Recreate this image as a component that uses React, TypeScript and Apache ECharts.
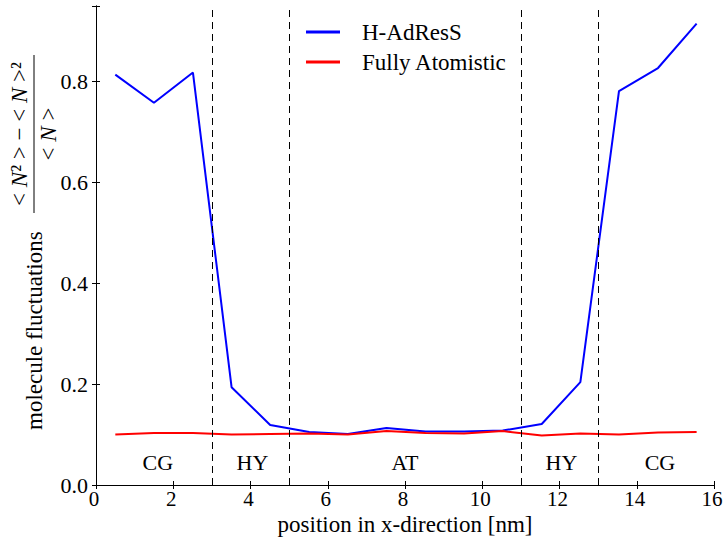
import React, { useEffect, useRef } from "react";
import * as echarts from "echarts";

const xPos = [0.5, 1.5, 2.51, 3.51, 4.51, 5.52, 6.52, 7.52, 8.53, 9.53, 10.53, 11.54, 12.54, 13.54, 14.55, 15.55];
const hAdress = [0.814, 0.758, 0.818, 0.194, 0.119, 0.105, 0.101, 0.113, 0.106, 0.106, 0.108, 0.121, 0.204, 0.781, 0.827, 0.915];
const fullyAtomistic = [0.1, 0.103, 0.103, 0.1, 0.101, 0.102, 0.1, 0.107, 0.103, 0.102, 0.107, 0.098, 0.102, 0.1, 0.104, 0.105];
const boundaries = [3, 5, 11, 13];
const regionNames = ["CG", "HY", "AT", "HY", "CG"];
const regionX = [1.6, 4.05, 8.0, 12.05, 14.6];
const regionY = 0.045;
const seriesNames = ["H-AdResS", "Fully Atomistic"];

const FONT = "'Liberation Serif', 'DejaVu Serif', serif";

export default function App() {
  const ref = useRef<HTMLDivElement>(null);
  useEffect(() => {
    if (!ref.current) return;
    document.body.style.margin = "0";
    const chart = echarts.init(ref.current, undefined, { renderer: "svg" });
    const axisCommon = {
      type: "value" as const,
      axisLine: { show: true, lineStyle: { color: "#000", width: 1 } },
      axisTick: { show: true, inside: true, length: 4, lineStyle: { color: "#000" } },
      splitLine: { show: false },
    };
    const isMajor = (v: number) => Math.abs(v / 0.2 - Math.round(v / 0.2)) < 1e-6;
    chart.setOption({
      animation: false,
      backgroundColor: "#fff",
      grid: { left: 96, right: 9, top: 6, bottom: 56, containLabel: false, outerBoundsMode: "none" },
      legend: {
        data: seriesNames,
        orient: "vertical",
        left: 306,
        top: 20,
        padding: 0,
        itemWidth: 34,
        itemHeight: 3,
        itemGap: 6,
        icon: "rect",
        textStyle: { fontFamily: FONT, fontSize: 23, color: "#000", lineHeight: 24, padding: [0, 0, 0, 17] },
      },
      xAxis: [
        {
          ...axisCommon,
          min: 0,
          max: 16,
          interval: 2,
          position: "bottom",
          axisLabel: {
            fontFamily: FONT,
            fontSize: 21,
            lineHeight: 18,
            color: "#000",
            margin: 5,
            padding: [0, 4, 0, 0],
          },
          name: "position in x-direction [nm]",
          nameLocation: "middle",
          nameGap: 29,
          nameMoveOverlap: false,
          nameTextStyle: { fontFamily: FONT, fontSize: 23, lineHeight: 20, color: "#000", verticalAlign: "top" },
        },
        {
          ...axisCommon,
          min: 0,
          max: 16,
          interval: 2,
          position: "top",
          axisLabel: { show: false },
        },
      ],
      yAxis: [
        {
          ...axisCommon,
          min: 0,
          max: 0.95,
          interval: 0.2,
          position: "left",
          axisLabel: {
            fontFamily: FONT,
            fontSize: 22,
            color: "#000",
            margin: 8,
            formatter: (v: number) => (isMajor(v) ? v.toFixed(1) : ""),
          },
        },
        {
          ...axisCommon,
          min: 0,
          max: 0.95,
          interval: 0.2,
          position: "right",
          axisLabel: { show: false },
        },
      ],
      series: [
        {
          name: seriesNames[0],
          type: "line",
          data: xPos.map((x, i) => [x, hAdress[i]]),
          symbol: "none",
          lineStyle: { color: "#0000ff", width: 2 },
          itemStyle: { color: "#0000ff" },
          markLine: {
            silent: true,
            symbol: ["none", "none"],
            label: { show: false },
            lineStyle: { color: "#000", type: [7, 5], width: 1 },
            data: boundaries.map((b) => ({ xAxis: b })),
          },
          z: 2,
        },
        {
          name: seriesNames[1],
          type: "line",
          data: xPos.map((x, i) => [x, fullyAtomistic[i]]),
          symbol: "none",
          lineStyle: { color: "#ff0000", width: 2 },
          itemStyle: { color: "#ff0000" },
          z: 3,
        },
        {
          name: "regions",
          type: "scatter",
          silent: true,
          symbolSize: 0,
          itemStyle: { opacity: 1, color: "#000" },
          data: regionNames.map((n, i) => [regionX[i], regionY, n]),
          label: {
            show: true,
            position: "inside",
            formatter: (p: any) => p.value[2],
            fontFamily: FONT,
            fontSize: 22,
            color: "#000",
            opacity: 1,
          },
        },
      ],
      graphic: [
        {
          type: "group",
          x: 34,
          y: 242,
          rotation: Math.PI / 2,
          children: [
            {
              type: "text",
              x: -188,
              y: 0,
              style: {
                text: "molecule fluctuations",
                fontFamily: FONT,
                fontSize: 23,
                fill: "#000",
                align: "left",
                verticalAlign: "middle",
              },
            },
            {
              type: "line",
              shape: { x1: 29, y1: 0, x2: 187, y2: 0 },
              style: { stroke: "#000", lineWidth: 1 },
            },
            {
              type: "text",
              x: 108,
              y: -3,
              style: {
                text: "{a|< }{i|N}{a|² > − < }{i|N}{a| >²}",
                align: "center",
                verticalAlign: "bottom",
                rich: {
                  a: { fontFamily: FONT, fontSize: 23, fill: "#000" },
                  i: { fontFamily: FONT, fontSize: 23, fontStyle: "italic", fill: "#000" },
                },
              },
            },
            {
              type: "text",
              x: 108,
              y: 3,
              style: {
                text: "{a|< }{i|N}{a| >}",
                align: "center",
                verticalAlign: "top",
                rich: {
                  a: { fontFamily: FONT, fontSize: 23, fill: "#000" },
                  i: { fontFamily: FONT, fontSize: 23, fontStyle: "italic", fill: "#000" },
                },
              },
            },
          ],
        },
      ],
    });
    return () => chart.dispose();
  }, []);
  return <div ref={ref} style={{ width: 723, height: 541 }} />;
}
